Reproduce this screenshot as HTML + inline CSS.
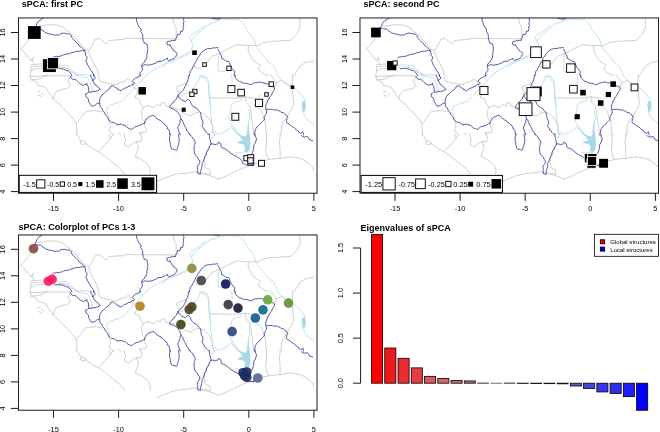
<!DOCTYPE html><html><head><meta charset="utf-8"><title>sPCA</title>
<style>html,body{margin:0;padding:0;background:#fff}svg{display:block}text{font-family:"Liberation Sans",sans-serif;fill:#000}</style></head><body>
<svg width="660" height="432" viewBox="0 0 660 432">
<rect width="660" height="432" fill="#fff"/>
<defs>
<clipPath id="c1"><rect x="18.5" y="17.95" width="298.5" height="175.3"/></clipPath>
<clipPath id="c2"><rect x="360.0" y="17.95" width="298.5" height="175.3"/></clipPath>
<clipPath id="c3"><rect x="18.5" y="234.95" width="298.5" height="175.3"/></clipPath>
<g id="map" fill="none" stroke-linejoin="round" stroke-linecap="round">
<path d="M302.5 101.5 L304.7 100.8 L305.9 104.5 L305.6 109.1 L304.4 112.1 L302.8 111.4 L302.2 107.6 L301.6 104.5Z M249.1 120.5 L249.2 123.0 L248.9 129.2 L249.4 133.0 L250.0 138.0 L250.4 144.2 L249.8 149.2 L248.1 151.8 L246.0 153.2 L244.4 150.5 L245.0 146.8 L243.1 144.2 L240.0 143.6 L237.5 143.2 L238.1 141.8 L241.2 140.8 L243.8 139.9 L241.5 139.2 L239.8 138.8 L241.8 138.0 L239.4 136.1 L236.9 133.9 L234.4 131.1 L232.1 128.4 L230.6 126.1 L231.0 125.6 L232.6 127.6 L235.0 130.2 L237.5 132.6 L240.0 134.5 L243.1 136.0 L245.6 136.5 L247.4 133.0 L248.1 128.0 L248.6 121.8Z" fill="#a8d8e8" stroke="none"/>
<path d="M37.7 26.6 L39.8 26.2 L41.9 25.8 L44.1 25.6 L46.2 25.0 L48.3 24.8 L50.6 24.8 L52.9 24.8 L55.1 25.0 L57.4 25.0 L59.4 25.8 L61.5 26.5 L63.5 27.3 L65.7 29.2 L68.0 31.2 L70.4 32.9 L72.6 34.9 L74.4 36.9 L76.3 38.8 L78.2 41.0 L80.1 43.3 L81.5 45.3 L83.2 47.0 L86.2 49.4 L88.5 50.1 L90.7 48.5 L91.7 46.2 L93.0 44.0 L94.2 41.8 L95.2 39.5 L99.1 38.3 L100.9 39.7 L102.9 41.0 L104.4 42.5 L105.9 44.0 L107.3 42.2 L108.9 40.5 L111.2 40.4 L113.5 40.1 L115.7 39.9 L118.0 39.8 M33.2 29.6 L32.2 31.9 L31.3 34.2 L30.2 36.4 L29.3 38.7 L28.2 40.5 L26.8 42.2 L25.6 44.0 L24.0 45.4 L22.5 47.0 L21.0 48.6 L22.4 50.6 L24.1 52.3 L25.6 54.2 L27.1 56.2 L29.1 58.3 L30.9 60.7 L31.9 58.9 L33.2 57.2 L32.7 59.3 L32.4 61.5 L34.6 64.5 M30.9 64.8 L32.9 64.5 L34.9 64.5 L36.9 64.3 L39.0 64.1 L41.0 63.9 L43.0 63.8 M43.0 66.0 L41.0 66.0 L39.0 66.3 L36.9 66.3 L34.9 66.7 L32.9 66.6 L30.9 66.7 L30.8 70.5 L32.8 69.9 L34.7 69.0 L36.7 68.8 L38.8 68.7 L40.9 68.3 L43.0 68.3 M58.2 66.8 L60.8 67.2 L63.5 67.8 L65.8 68.1 L68.0 68.8 L70.3 71.3 L72.6 72.4 L74.8 73.6 L76.6 74.9 L78.6 76.0 M88.5 50.1 L89.2 52.7 L90.0 55.4 L91.0 57.7 L92.2 60.0 L93.1 62.0 L94.3 63.9 L95.3 66.0 L96.5 68.2 L97.5 70.6 L98.1 73.3 L99.1 76.0 M118.0 39.8 L120.0 39.6 L122.0 39.7 L124.1 39.5 L124.8 38.0 L125.6 38.4 L127.6 38.5 L129.6 38.3 L131.6 38.3 L133.7 38.7 L135.7 38.6 L137.7 38.5 L139.7 38.7 L141.7 38.5 L143.8 38.7 L145.8 38.7 L147.8 38.5 L149.8 38.5 L151.8 38.5 L153.9 38.5 L155.9 38.7 L157.9 38.6 L159.9 38.6 L161.9 38.6 L164.0 38.8 L166.0 38.7 L168.0 38.7 L170.0 38.8 L172.0 38.9 L174.0 38.7 L176.0 38.8 L176.1 36.6 L176.2 34.5 L176.2 32.4 L176.1 30.2 L176.3 28.1 L175.1 25.9 L174.0 23.6 L173.4 20.7 L172.5 17.8 M218.0 53.9 L215.4 54.9 L212.7 55.7 L210.9 57.9 L208.9 60.0 L206.7 63.0 L205.1 64.4 L203.7 66.1 L202.0 67.5 L200.5 69.0 L197.9 67.9 L195.3 66.8 L193.8 66.0 M218.0 53.9 L220.3 52.9 L222.5 51.6 L224.5 50.7 L226.4 49.8 L228.2 48.6 L230.1 47.9 L232.2 46.9 L234.2 45.9 L236.2 44.8 L238.2 44.8 L240.2 45.0 L242.2 45.1 L244.3 45.4 L246.3 45.5 L248.3 45.8 L250.8 45.7 L253.2 45.5 L255.7 45.5 L258.2 45.6 L259.9 44.5 L261.8 43.7 L263.4 42.5 L266.0 42.1 L268.5 41.8 L271.0 41.4 L273.1 41.3 L275.3 41.3 L277.4 41.1 L279.5 41.0 L281.6 40.7 L283.9 40.7 L286.2 40.6 L288.5 40.4 L290.7 40.3 L292.1 38.6 L293.8 37.3 L295.3 35.7 L296.8 34.2 L297.8 32.2 L298.7 30.1 L299.8 28.1 L300.0 26.1 L299.7 24.0 L299.8 21.9 L299.8 19.9 L299.8 17.8 M248.3 45.8 L248.2 48.3 L248.3 50.8 L249.5 53.5 L250.6 56.2 L251.9 57.9 L253.1 59.7 L254.4 61.4 L256.4 62.6 L258.5 63.9 L260.4 65.2 L259.2 67.1 L258.2 69.0 L260.1 70.9 L261.9 72.8 L264.1 74.0 L266.5 74.9 L268.8 76.0 M313.5 61.0 L310.9 61.5 L308.4 62.0 L305.9 62.2 L303.9 63.6 L301.9 64.8 L299.8 66.0 L298.7 68.3 L297.5 70.5 L296.2 72.3 L295.0 74.2 L293.8 76.0 M30.1 76.5 L31.6 79.5 L33.8 80.8 L36.2 81.8 L36.8 83.8 L37.6 85.6 L40.0 85.9 L42.2 86.3 L44.2 87.0 L46.0 87.9 L47.1 89.8 L48.3 91.7 L50.6 94.7 L52.8 97.7 L54.3 100.0 L56.3 101.5 L58.1 103.0 L59.8 104.4 L61.2 106.1 L63.1 107.9 L64.9 109.9 L66.8 111.8 L68.8 113.6 L71.1 116.6 L72.6 118.1 L74.1 119.7 L75.1 121.6 L76.4 123.5 L76.5 125.8 L76.3 128.0 L77.1 131.8 L76.3 135.0 M37.7 91.7 L40.0 90.9 M38.5 95.5 L41.5 96.2 M42.2 93.2 L43.8 94.7 M30.1 76.5 L32.1 76.4 L34.2 76.3 L36.2 76.4 L38.2 76.2 L40.2 76.2 L42.2 76.0 L44.3 75.8 L46.3 75.8 L48.3 75.8 L50.4 75.8 L52.5 75.7 L54.7 75.6 L56.8 75.8 L58.9 75.8 L61.0 75.7 L63.2 75.7 L65.3 75.8 L67.4 75.9 L69.5 75.7 M69.5 77.3 L68.9 79.6 L68.0 81.8 L69.2 83.7 L70.3 85.6 L68.4 87.2 L66.5 88.6 L64.2 88.9 L61.9 89.4 L59.7 90.3 L57.4 90.9 L55.9 92.8 L54.3 94.7 L53.7 96.6 L52.9 98.5 M76.3 123.5 L78.3 121.3 L80.1 118.9 L81.5 117.3 L82.6 115.4 L83.9 113.6 L86.2 111.3 L88.7 111.1 L91.2 110.9 L93.8 110.7 L96.0 110.7 L98.3 111.1 L100.6 111.3 L102.8 112.2 M98.3 77.3 L99.6 79.5 L100.6 81.8 L102.7 82.0 L104.7 82.5 L106.8 83.1 L108.9 83.4 L111.2 83.8 L113.4 84.3 L115.7 84.6 L118.0 84.8 M108.9 120.5 L109.5 122.4 L110.0 124.5 L110.4 126.5 L109.6 128.8 L108.9 131.0 L111.9 133.3 L113.4 135.0 M118.0 83.3 L120.0 82.8 L122.0 82.2 L124.1 81.8 L126.4 80.4 L128.6 78.8 L130.1 80.3 L131.6 81.8 L132.5 84.4 L133.2 87.1 L135.5 88.5 L137.7 90.1 L137.0 92.5 L136.2 94.7 L134.7 97.7 L137.0 98.4 L139.2 99.2 L140.0 101.5 L140.7 103.8 L142.0 105.6 L143.0 107.6 L142.3 109.5 L141.5 111.4 L141.7 113.9 L142.1 116.4 L142.3 118.9 L143.8 120.4 L145.3 122.0 L144.8 124.2 L144.6 126.5 L146.8 129.5 L145.3 132.6 L143.3 132.6 L141.2 132.7 L139.2 132.6 L140.7 135.0 M118.0 132.6 L121.0 135.0 M143.0 107.6 L145.7 106.5 L148.3 105.3 L150.6 106.4 L152.8 107.6 L155.2 106.2 L157.4 104.5 L160.4 106.0 L161.2 103.0 L164.2 102.2 L165.0 105.3 L166.8 106.2 L168.8 106.8 L171.4 107.3 L174.1 107.6 L176.3 108.5 L178.6 109.1 L180.2 110.5 L181.7 112.1 L183.9 113.3 L186.2 114.4 L188.4 115.3 L190.7 115.9 L193.0 114.4 L195.3 112.9 L197.5 112.5 L199.8 112.1 L202.1 113.2 L204.4 114.4 L206.5 116.4 L208.9 118.1 L209.9 120.3 L210.7 122.4 L211.6 124.5 L212.7 126.5 L212.5 128.8 L211.9 131.1 L213.3 133.1 L215.0 135.0 M186.9 82.6 L184.7 84.1 L182.5 84.7 L180.5 85.6 L178.4 86.2 L176.3 87.1 L177.0 89.2 L178.0 91.1 L178.6 93.2 L177.9 95.5 L177.1 97.7 M209.7 97.7 L211.8 97.9 L213.8 97.8 L215.9 97.6 L218.0 97.7 M218.0 98.0 L220.2 98.1 L222.4 97.9 L224.6 98.0 L226.8 98.2 L228.9 97.9 L231.1 97.9 L233.3 98.0 L235.5 98.1 L237.7 98.1 L240.2 97.6 L242.7 97.2 L245.3 96.9 L247.9 97.3 L250.6 97.7 L252.9 98.0 L255.1 98.5 M245.3 97.0 L245.8 99.6 L246.0 102.3 L247.9 104.6 L249.9 106.8 L250.2 109.4 L251.0 111.8 L251.3 114.4 L251.4 116.4 L251.7 118.4 L252.1 120.5 L252.4 122.5 L252.7 124.5 L252.8 126.5 L253.2 128.6 L253.3 130.7 L253.5 132.9 L253.7 135.0 M255.1 105.3 L256.8 106.8 L258.5 108.4 L260.2 109.9 L261.9 111.4 L262.4 113.4 L263.0 115.4 L263.5 117.4 L265.0 120.5 L265.3 123.0 L265.4 125.5 L265.7 128.0 L266.0 130.4 L266.2 132.7 L266.5 135.0 M271.0 75.0 L272.6 77.3 L274.1 79.5 L276.3 82.6 L275.4 84.8 L274.8 87.1 M293.0 75.0 L292.7 77.0 L292.4 79.0 L292.2 81.1 L292.2 83.3 L292.3 85.6 L292.3 87.9 L292.2 90.2 L292.6 92.2 L292.8 94.2 L293.0 96.2 L293.2 98.2 L293.5 100.3 L293.8 102.3 L293.3 104.3 L292.8 106.3 L292.2 108.3 L290.8 110.6 L289.2 112.9 L287.9 115.1 L287.0 117.4 L285.0 119.7 L283.1 122.0 L282.4 124.3 L281.6 126.5 L281.3 128.6 L281.4 130.8 L281.1 132.9 L280.9 135.0 M276.3 82.6 L279.0 81.5 L281.7 80.3 L283.9 82.2 L286.2 84.1 L288.4 85.3 L290.7 86.4 M76.3 134.0 L78.6 137.0 L79.8 138.9 L80.9 140.8 L84.7 141.6 L86.2 143.8 L82.4 144.6 L80.1 143.1 L80.8 140.8 M86.2 143.8 L88.1 145.5 L90.2 146.9 L92.2 148.4 L94.2 149.5 L96.2 150.5 L98.3 151.5 L100.3 153.0 L102.4 154.4 L104.4 156.0 L106.4 157.5 L108.4 159.1 L110.4 160.5 L112.6 162.5 L115.0 164.3 L118.0 166.6 M98.3 151.4 L99.8 149.8 L101.2 148.3 L102.8 146.9 L104.3 145.3 L105.9 143.8 L107.4 142.3 L108.9 140.4 L110.4 138.5 L109.7 136.3 L108.9 134.0 M110.4 138.5 L111.8 136.2 L113.5 134.0 M118.0 166.6 L119.5 168.1 L121.0 169.6 L122.5 171.1 L124.8 174.2 M156.6 181.7 L158.9 180.7 L161.2 179.7 L163.5 178.7 L165.3 177.8 L167.3 177.2 L169.2 176.5 L171.0 175.6 L173.6 175.0 L176.1 174.4 L178.6 173.7 L181.1 173.4 L183.7 173.5 L186.2 173.1 L188.5 172.8 L190.7 172.6 L193.0 172.0 L195.3 171.9 L197.8 172.5 L200.3 173.0 L202.8 173.7 L205.4 174.3 L207.9 175.0 L210.4 175.7 L212.3 176.5 L214.3 177.1 L216.1 177.9 L218.0 178.7 M124.1 134.0 L124.5 136.0 L125.0 138.1 L125.6 140.1 L124.7 142.3 L124.1 144.6 L126.3 145.7 L128.6 146.9 L130.9 145.0 L133.2 143.1 L135.1 142.4 L137.0 141.6 L137.5 143.6 L138.0 145.6 L138.5 147.6 L137.7 149.6 L136.9 151.7 L136.2 153.7 L135.5 156.7 L138.0 157.9 L140.7 159.0 L143.0 160.5 L145.3 162.0 L147.2 164.3 L149.1 166.5 L149.9 168.8 L150.5 171.1 L149.8 174.1 M140.7 134.0 L141.4 136.3 L142.2 138.6 L140.7 141.6 L136.9 141.6 M211.2 143.8 L209.9 145.6 L208.6 147.4 L207.4 149.2 L206.7 151.2 L205.8 153.2 L205.1 155.2 L204.8 157.2 L204.6 159.2 L204.4 161.3 L204.8 163.3 L204.7 165.3 L205.1 167.3 L207.3 168.6 L209.7 169.6 L210.0 171.9 L210.4 174.2 L208.4 173.9 L206.4 173.8 L204.4 173.7 M218.0 179.2 L220.3 178.3 L222.6 177.4 L224.9 176.7 L227.1 175.7 L229.2 174.5 L231.3 173.4 L233.4 172.4 L235.6 171.4 L237.7 170.4 L240.0 169.5 L242.3 168.6 L244.5 167.4 L246.8 166.6 L249.3 165.9 L251.9 165.2 L254.4 164.3 L256.6 163.3 L259.0 162.5 L261.2 161.6 L263.5 160.5 L265.8 160.3 L268.0 159.7 L270.2 159.2 L272.5 159.0 L274.8 158.9 L277.1 158.5 L279.4 158.5 L281.6 158.3 L283.9 157.8 L286.2 157.5 L288.5 157.2 L290.7 156.7 L293.8 157.5 L295.8 157.6 L297.8 158.1 L299.8 158.3 L301.8 159.2 L303.9 160.1 L305.9 161.3 L308.1 163.2 L310.4 165.0 L311.9 166.6 L313.4 168.1 L313.4 170.4 M266.5 134.0 L266.5 136.3 L266.5 138.5 L266.5 140.8 L266.5 143.1 L266.3 145.6 L266.1 148.2 L265.7 150.7 L266.3 152.7 L266.7 154.7 L267.3 156.7 L268.8 159.5 M280.1 134.0 L280.0 136.5 L279.8 139.1 L279.3 141.6 L279.6 143.8 L279.9 146.1 L279.9 148.4 L280.1 150.7 L280.2 153.2 L280.1 155.7 L280.1 158.2 M30.9 70.5 L30.5 73.2 L30.1 76.5 M30.9 80.1 L33.8 79.6 L36.7 79.5 L39.4 78.7 L42.2 78.3 M42.2 76.9 L45.9 76.2 L47.4 74.4" stroke="#bebebe" stroke-width="0.75"/>
<path d="M53.6 65.2 L55.9 65.1 L58.2 64.9 L59.9 65.1 L61.7 65.2 L63.5 65.2 L65.8 65.4 L68.0 66.1 L69.2 67.5 L70.2 69.1 L71.6 70.4 L73.3 71.3 L74.9 72.4 L76.3 73.6 L78.6 75.1 L80.8 74.5 L83.1 74.3 L85.2 74.4 L87.2 75.1 L89.2 75.1 M146.0 76.0 L147.4 74.5 L148.9 73.2 L150.5 72.0 L151.8 71.0 L153.2 70.1 L154.6 69.2 L156.1 68.6 L157.4 67.5 L158.9 66.8 L160.3 65.8 L161.9 65.2 L163.4 64.4 L164.9 63.6 L166.4 62.7 L168.0 62.2 L169.5 61.6 L171.0 60.8 L172.5 60.4 L174.2 60.0 L175.5 59.1 L177.2 58.6 L178.6 57.6 L180.1 56.9 L181.7 56.2 L183.1 55.3 L184.7 54.6 L186.2 53.9 L187.8 53.4 L189.2 52.3 L190.8 51.7 L191.4 49.9 L191.9 48.2 L192.4 46.5 L193.0 44.8 L192.0 43.0 L191.4 41.0 L192.4 39.0 L193.8 37.2 L194.8 36.0 L195.9 34.8 L197.0 33.6 L198.3 32.7 L200.0 31.7 L201.4 30.5 L202.8 29.2 L204.3 28.1 L205.8 26.8 L207.4 25.6 L208.9 24.3 L210.4 23.7 L211.9 23.1 L213.6 22.9 L215.0 22.1 L218.0 21.3 M191.5 41.0 L190.2 39.2 L189.3 37.2 L190.7 35.9 L192.2 34.6 L193.7 33.4 L195.2 32.4 L196.8 31.5 L198.3 30.6 L199.8 29.6 L201.1 28.7 L202.3 27.5 L203.7 26.7 L205.1 25.8 M190.7 51.6 L189.2 52.8 L187.9 54.1 L186.4 55.2 L184.7 56.2 L183.2 56.9 L181.6 57.2 L180.1 57.8 L178.6 58.4 L177.1 58.9 L175.5 59.5 L174.0 60.0 L172.6 60.9 L171.0 61.5 L169.4 62.0 L168.1 63.2 L166.5 63.7 L164.9 64.9 L163.6 66.5 L161.9 67.5 M218.0 20.5 L219.8 20.1 L221.6 19.9 L223.4 19.7 L225.3 19.7 L227.1 19.3 L228.8 19.4 L230.6 19.2 L232.3 19.3 L234.0 19.5 L235.7 19.8 L237.5 19.8 L239.2 19.8 L240.6 21.0 L241.7 22.3 L243.0 23.6 L243.9 25.1 L245.0 26.5 L245.5 28.2 L246.8 29.5 L247.5 31.2 L248.4 32.5 L249.9 33.4 L250.7 34.8 L251.6 36.1 L252.8 37.3 L253.6 39.0 L254.5 40.7 L255.2 42.5 L255.2 44.5 L255.9 46.3 L257.0 47.8 L258.3 49.2 L259.3 50.9 L260.4 52.4 L261.7 53.5 L262.6 55.1 L263.8 56.3 L264.9 57.7 L266.0 59.1 L267.4 60.2 L268.2 61.8 L269.5 63.0 L271.2 64.0 L272.7 65.3 L274.1 66.8 L274.8 68.5 L275.7 70.2 L276.4 72.0 L277.2 74.0 L277.9 76.0 M75.6 75.0 L77.5 75.2 L79.3 76.0 L81.3 76.0 L83.1 76.5 L85.4 77.2 L87.7 78.1 L89.0 79.8 L90.0 81.8 L90.9 84.0 L91.5 86.3 L92.0 88.3 L93.0 90.2 L90.7 91.4 M118.0 102.3 L116.5 102.9 L114.9 103.1 L113.5 104.0 L112.0 104.6 L110.3 105.1 L108.9 106.0 L107.4 106.7 L107.3 109.1 L106.6 111.4 L107.2 113.2 L108.0 115.0 L108.8 116.7 L109.2 118.6 L108.9 120.5 M118.0 103.0 L119.4 102.1 L121.1 101.6 L122.5 100.8 L123.7 99.7 L125.0 98.6 L125.8 97.2 L127.1 96.2 L128.3 94.6 L129.4 93.0 L130.9 91.7 L132.3 90.5 L133.5 89.2 L134.6 87.8 L136.0 86.8 L137.2 85.6 L138.3 84.2 L139.6 83.1 L140.7 81.8 L141.9 80.2 L143.1 78.6 L144.5 77.2 L145.5 75.9 L146.8 75.0 M201.3 75.0 L200.4 76.4 L199.7 78.0 L198.9 79.5 L198.3 81.0 L197.5 82.7 L196.4 84.1 L195.5 85.6 L194.5 87.1 L193.2 88.2 L192.0 89.5 L190.5 90.5 L189.2 91.6 L187.8 92.6 L186.1 93.0 L184.7 94.0 L183.2 94.6 L181.7 95.2 L180.1 95.5 L178.6 96.1 M202.1 75.0 L203.8 76.1 L205.7 76.9 L207.4 78.1 L208.0 80.0 L208.6 82.0 L208.8 84.1 L208.8 86.0 L208.8 87.9 L208.8 89.8 L208.8 91.7 L209.1 93.5 L209.0 95.3 L209.2 97.1 L209.3 99.0 L209.7 100.8 L209.7 102.6 L209.9 104.4 L210.2 106.2 L210.4 108.0 L210.4 109.9 L210.8 111.6 L210.5 113.5 L211.1 115.3 L211.3 117.1 L211.3 118.9 L211.2 120.8 L211.9 122.6 L212.3 124.4 L212.7 126.2 L212.8 128.0 L213.0 129.8 L213.4 131.5 L213.7 133.3 L214.2 135.0 M231.6 75.0 L231.7 76.9 L232.0 78.8 L232.1 80.7 L232.3 82.6 M241.5 97.7 L240.7 100.8 L238.7 101.3 L236.6 101.5 L234.7 102.3 L233.1 103.3 L231.6 104.6 L231.3 106.2 L231.5 108.0 L230.8 109.6 L230.9 111.4 L230.6 113.0 L229.9 114.4 L229.2 115.9 L228.7 117.5 L229.4 119.7 L230.1 122.0 L231.0 123.6 L232.2 125.0 L233.2 126.5 L234.4 127.5 L235.3 128.9 L236.4 130.1 L237.7 131.1 M249.1 109.8 L249.4 111.7 L249.3 113.7 L249.7 115.5 L249.9 117.4 L249.7 119.4 L248.9 121.2 L248.5 123.1 L248.3 125.0 L247.9 126.9 L247.5 128.8 L247.3 130.7 L246.7 132.6 M260.4 94.7 L259.4 96.6 L258.1 98.5 M269.5 97.7 L268.3 99.1 L267.3 100.7 L266.5 102.3 M278.6 76.5 L279.8 77.6 L280.9 78.8 L282.2 79.8 L283.1 81.1 L284.7 82.3 L286.0 83.7 L287.7 84.8 L289.2 85.5 L290.8 86.2 L292.2 87.1 L293.9 88.0 L295.4 88.9 L296.8 90.2 L298.0 91.2 L299.2 92.3 L300.3 93.5 L301.3 94.7 L302.4 96.2 L303.3 97.8 L304.3 99.3 L304.7 101.3 L304.6 103.3 L305.1 105.3 L304.8 106.9 L303.8 108.3 L303.2 109.8 L302.8 111.3 L303.8 113.6 L304.3 115.9 L305.3 117.2 L306.6 118.3 L307.5 119.6 L308.5 120.9 L309.9 121.8 L311.2 122.7 L313.5 124.2 M215.0 134.0 L214.0 135.5 L212.8 136.9 L212.0 138.6 M215.0 131.1 L216.1 132.8 L217.4 134.3 L219.2 133.9 L220.8 133.3 L222.5 133.0 L224.2 132.3 L225.7 131.1 L227.5 130.5 L228.6 129.1 L230.0 128.0 M236.2 152.4 L238.1 152.8 L240.0 153.2 L242.1 152.4 L244.4 151.7 M218.6 55.6 L218.4 57.2 L218.7 58.9 L218.1 60.6 L218.3 62.3 L218.1 63.9 L217.9 65.8 L218.5 67.5 L218.2 69.4 L218.6 71.2 L220.5 71.6 L222.4 71.4 L224.3 71.8 L225.5 70.7 L227.2 70.2 L228.5 69.2 M199.2 76.4 L201.0 76.8 L202.7 77.1 L204.5 77.4 L205.1 79.0 L206.1 80.4 L206.9 81.9 L208.0 83.2 L208.7 84.7 L209.0 86.4 L208.7 88.0 L208.9 89.6 L209.3 91.2 L209.0 92.9 L209.5 94.5 L209.5 96.1 L209.8 97.7 L209.7 99.3 L209.7 101.0 L210.3 102.7 L210.6 104.3 L210.7 106.0" stroke="#a8d8e8" stroke-width="0.75"/>
<path d="M35.0 28.4 L35.4 26.8 L36.3 25.5 L36.8 23.7 L37.7 22.1 L39.2 20.6 L40.9 19.9 L42.1 18.6 L44.0 17.8 M33.9 28.1 L35.3 28.1 L36.6 28.5 L37.9 29.0 L39.3 28.9 L40.7 28.9 L41.9 30.0 L43.1 31.0 L44.6 31.8 L45.6 32.8 L46.9 33.2 L48.3 33.5 L49.5 34.1 L51.0 34.1 L52.3 34.5 L53.6 34.8 L55.1 35.2 L56.7 34.8 L58.2 35.3 L59.3 34.5 L60.5 33.8 L61.9 33.4 L63.5 33.1 L65.0 33.2 L66.5 33.8 L68.4 33.8 L70.3 34.4 L71.4 35.6 L71.7 37.3 L72.8 38.8 L74.1 40.2 L75.2 41.1 L76.2 42.2 L77.1 43.2 L78.4 44.0 L78.9 45.5 L80.0 46.4 L81.2 47.2 L82.2 48.1 L83.2 48.9 L84.8 50.5 L85.2 52.2 L85.5 53.9 L85.6 55.5 L86.8 56.8 L87.1 58.4 L86.1 59.8 L86.2 61.5 L87.0 62.6 L87.2 64.0 L87.8 65.2 L88.8 66.8 L89.9 68.4 L90.4 69.7 L91.3 70.9 L92.3 72.0 L92.9 73.3 L93.6 74.6 L93.7 76.0 M84.7 50.5 L83.1 50.7 L81.6 50.6 L80.1 51.2 L78.6 51.2 L77.0 51.3 L75.5 51.5 L74.0 52.3 L72.5 52.5 L70.9 52.9 L69.5 53.5 L68.0 54.1 L66.5 54.1 L65.0 54.5 L63.5 54.8 L62.3 55.6 L60.9 55.8 L59.6 56.3 L58.1 56.6 L56.6 56.3 L55.1 56.9 L53.6 56.8 L52.0 58.3 M54.4 68.3 L55.8 68.9 L57.4 68.4 L58.9 68.4 L60.5 68.6 L61.9 68.9 L63.5 69.1 L64.9 69.9 L66.4 70.6 L68.0 70.6 L69.0 71.5 L69.9 72.7 L71.0 73.6 L71.9 76.0 M136.2 17.8 L136.5 19.2 L136.5 20.7 L136.9 22.1 L137.6 23.3 L137.9 24.6 L138.4 25.9 L139.1 27.3 L140.5 28.2 L141.0 29.6 L140.8 31.9 L141.8 32.9 L142.5 34.2 L142.7 35.7 L142.8 37.2 L142.9 38.7 L143.0 40.2 L143.8 41.5 L144.0 43.0 L145.6 43.5 L147.1 44.0 L147.2 45.6 L147.6 47.1 L147.8 48.6 L147.8 49.9 L147.3 51.2 L147.4 52.5 L147.4 53.9 L146.7 55.3 L147.0 57.0 L146.4 58.4 L145.9 59.9 L144.8 60.6 L144.4 62.1 L143.5 63.0 L142.3 63.7 L141.6 66.0 L142.0 67.5 L142.4 69.0 L142.2 70.6 L140.9 71.9 L139.9 73.5 L140.1 76.0 M183.9 17.8 L183.6 19.1 L183.6 20.4 L184.1 21.7 L183.3 23.0 L183.5 24.3 L183.7 25.7 L182.9 27.0 L183.3 28.4 L183.0 29.8 L182.7 31.1 L180.4 31.4 L180.6 32.9 L180.1 34.2 L178.8 34.3 L177.4 34.5 L177.3 35.9 L176.7 37.2 L175.9 38.7 L175.7 40.3 L174.1 40.3 L172.6 40.6 L171.0 40.8 L169.8 41.2 L168.5 41.3 L167.2 41.8 L166.6 44.1 L168.3 44.9 L170.3 44.9 L170.3 46.2 L171.6 47.2 L171.9 48.5 L173.1 49.3 L173.6 50.8 L174.9 51.6 L176.3 52.3 L177.4 53.6 L176.5 54.7 L176.2 56.1 L175.2 57.4 L174.0 58.4 L172.5 59.1 L171.3 59.6 L169.9 60.0 L168.8 60.8 L167.6 59.6 L167.3 58.1 L165.8 59.1 L164.3 60.0 L162.8 60.3 L161.9 61.4 L160.0 61.2 L158.2 61.6 L156.7 61.9 L155.8 63.3 L154.3 63.6 L152.9 64.2 L151.4 64.6 L149.8 64.8 L148.3 65.1 L146.7 65.1 L145.2 64.6 L143.7 65.2 L142.3 66.1 M218.0 47.8 L216.7 47.5 L215.4 47.9 L214.1 47.9 L212.8 47.9 L211.5 48.7 L210.2 48.4 L208.9 48.6 L207.3 48.8 L205.8 49.3 L204.3 50.0 L203.4 51.0 L202.2 51.7 L201.4 52.8 L200.5 53.8 L199.8 55.3 L198.9 56.7 L197.6 57.7 L197.2 59.0 L196.9 60.3 L195.9 61.4 L195.2 62.9 L194.4 64.4 L193.7 66.0 L192.8 67.0 L192.3 68.3 L191.9 69.7 L190.7 70.5 L190.1 71.8 L190.0 73.3 L189.6 74.6 L189.2 76.0 M211.9 18.3 L213.4 18.6 L214.9 18.9 L216.5 19.0 L218.0 19.1 M218.0 49.3 L218.7 50.9 L219.6 52.3 L220.3 53.9 L221.2 55.3 L221.5 56.8 L221.7 58.5 L223.2 58.9 L224.3 59.9 L225.6 60.7 L227.0 61.4 L228.6 61.4 L229.3 62.6 L229.8 63.9 L230.1 65.2 L230.9 66.3 L231.3 67.6 L232.1 68.6 L232.8 69.7 L234.0 70.5 L234.7 71.8 L234.5 73.3 L234.7 74.7 L235.4 76.0 M218.0 19.0 L219.5 18.7 L221.0 18.1 M70.3 76.5 L71.1 78.0 L72.2 79.0 L73.6 79.4 L75.2 79.3 L76.3 80.3 L77.4 81.2 L78.3 82.1 L79.3 83.0 L80.2 84.0 L81.9 84.4 L83.2 85.5 L84.3 84.7 L85.9 84.5 L86.9 83.2 L87.0 85.0 L88.2 86.3 L88.5 87.9 L88.5 89.8 L89.1 91.7 L88.0 92.5 L86.9 93.6 L85.4 93.9 L85.9 95.4 L86.1 97.0 L87.5 97.9 L88.5 99.2 L88.4 101.2 L89.4 103.0 L90.4 104.5 L91.4 106.1 L93.4 105.9 L95.2 105.2 L96.3 104.1 L97.6 103.4 L99.1 103.1 L99.8 104.2 L99.8 105.6 L100.5 106.9 L101.5 107.9 L102.3 109.0 L102.5 110.5 L103.6 111.4 L104.6 112.5 L104.9 114.0 L105.9 115.1 L106.8 116.3 L107.8 117.4 L108.1 119.0 L109.0 120.4 L110.4 121.2 L111.7 122.4 L113.7 122.3 L115.0 123.4 L116.5 124.2 L117.9 125.1 M90.7 75.0 L90.8 76.7 L91.8 78.0 L92.3 79.5 L93.1 81.0 L93.8 82.6 L94.4 84.1 L96.0 84.9 L96.9 86.3 L98.3 87.2 L99.2 88.5 L100.5 89.5 L99.3 89.8 L98.1 90.6 L96.8 91.0 L94.9 91.4 L93.0 91.6 L91.1 92.2 L89.2 92.1 M93.8 75.0 L94.3 76.6 L95.3 78.0 L94.0 79.5 L92.3 80.4 M118.0 89.4 L116.5 88.2 L114.9 87.2 L113.8 86.1 L112.3 85.8 L110.8 86.4 L110.2 87.9 L109.0 88.7 L108.2 89.9 L106.9 90.7 L105.8 91.6 L104.6 92.7 L103.5 93.9 L102.1 94.7 L101.2 96.2 L100.4 97.6 L99.8 99.2 L99.5 101.1 L99.8 103.0 M118.0 89.4 L119.6 90.1 L121.0 90.9 L122.1 90.1 L123.1 89.1 L124.3 88.4 L125.6 87.9 L127.1 87.7 L128.0 86.3 L129.6 86.2 L130.9 85.7 L131.9 84.5 L133.6 84.4 L134.6 83.2 L133.6 82.1 L132.4 81.0 L133.5 80.1 L134.3 78.9 L135.4 78.0 L136.7 77.6 L137.9 77.0 L139.2 76.6 L140.7 75.0 M118.0 124.2 L119.5 124.4 L121.1 124.1 L122.5 124.9 L124.1 125.0 L125.7 125.9 L127.0 127.3 L128.5 128.3 L130.1 128.8 L131.7 129.5 L133.1 128.4 L134.6 127.2 L136.1 126.4 L137.7 126.2 L139.2 125.6 L140.5 125.1 L141.9 124.6 L143.0 123.6 L144.5 123.5 L144.6 121.8 L145.7 120.5 L146.1 119.0 L147.3 118.2 L148.3 117.0 L149.8 116.7 L151.3 115.8 L152.9 115.3 L154.6 116.0 L155.8 117.5 L156.7 118.6 L158.0 119.1 L159.1 120.0 L160.5 120.4 L161.4 121.8 L163.0 122.5 L164.1 123.6 L164.9 125.0 L166.5 125.8 L167.2 127.3 L167.6 129.0 L169.1 130.1 L169.6 131.8 L169.6 133.5 L170.4 135.0 M189.2 75.0 L188.4 76.4 L188.7 78.1 L187.8 79.5 L187.8 81.1 L187.1 82.3 L186.1 83.3 L186.1 84.8 L185.5 86.0 L184.7 87.1 L184.1 88.4 L183.5 89.7 L182.7 90.7 L181.7 91.7 L180.4 92.5 L179.6 93.8 L178.5 94.8 L177.9 96.3 L176.9 97.2 L176.7 98.7 L175.6 99.6 L174.8 100.7 L174.0 101.9 L172.7 102.6 L172.0 103.9 L171.1 104.9 L170.2 106.0 L169.6 107.6 L170.9 108.5 L172.5 108.7 L174.1 109.1 L175.1 110.3 L176.7 110.9 L177.8 112.2 L178.5 113.4 L179.5 114.6 L180.1 115.9 L180.6 117.4 L181.0 118.9 L180.1 120.4 L180.3 122.1 L179.3 123.5 L179.1 125.1 L178.2 126.5 L177.7 128.0 L178.3 129.6 L178.7 131.1 L179.4 132.6 L180.3 135.0 M180.9 118.9 L182.0 120.0 L182.7 121.3 L183.1 122.7 L183.8 124.0 L184.4 125.3 L184.9 126.6 L185.9 127.7 L186.3 129.1 L186.6 130.6 L187.8 131.4 L188.6 132.5 L189.1 133.8 L189.9 134.9 M177.8 96.2 L178.9 97.1 L179.9 97.9 L180.6 99.1 L181.6 100.0 L183.0 100.2 L184.1 101.1 L185.4 101.5 L186.7 100.1 L188.5 99.3 L189.4 100.4 L190.3 101.6 L190.8 103.0 L191.6 104.4 L192.5 105.8 L193.7 106.9 L195.1 107.5 L196.4 108.1 L197.6 109.0 L198.4 110.4 L199.5 111.7 L200.6 112.9 L200.7 114.4 L201.1 115.9 L201.2 117.4 L201.6 119.0 L202.6 120.4 L202.7 122.0 L203.0 123.6 L202.3 125.0 L202.1 126.5 L203.1 127.6 L204.0 128.8 L204.3 130.3 L205.7 131.0 L206.3 132.4 L207.3 133.4 L209.0 134.9 M233.9 75.0 L235.0 76.0 L235.3 77.6 L236.2 78.8 L237.1 79.8 L238.3 80.6 L239.4 81.4 L240.8 81.7 L242.0 82.6 L243.3 83.0 L244.6 83.4 L246.1 83.2 L247.4 83.6 L248.7 84.0 L249.9 84.7 L251.5 84.4 L253.0 83.6 L254.4 82.6 L255.7 82.8 L257.0 82.6 L258.3 82.1 L259.7 82.2 L261.1 82.1 L262.3 83.1 L263.7 82.8 L265.0 83.3 L266.3 83.8 L267.7 83.9 L268.8 84.8 L270.2 85.2 L271.3 86.2 L272.8 86.4 L274.1 87.1 L274.7 89.4 L274.1 90.5 L273.0 91.5 L272.4 92.7 L271.9 94.0 L271.1 95.3 L270.3 96.6 L269.3 97.8 L268.8 99.3 L267.8 100.7 L267.2 102.3 L266.6 103.8 L265.8 105.6 L265.8 107.6 L265.8 109.5 L266.6 111.3 L266.5 113.0 L265.8 114.5 L264.9 115.9 L264.1 117.7 L264.4 119.7 L263.2 120.7 L262.2 121.7 L261.1 122.7 L260.5 123.9 L259.3 124.6 L258.4 125.7 L257.3 126.4 L256.4 128.2 L255.0 129.5 L255.1 130.9 L255.0 132.3 L254.4 133.6 L254.4 135.0 M266.5 109.8 L267.9 109.2 L269.5 109.5 L271.0 109.0 L272.3 109.6 L273.7 109.7 L275.0 109.9 L276.3 109.9 L277.6 110.2 L278.9 110.8 L280.1 111.3 L281.5 112.5 L283.3 112.5 L284.6 113.7 L286.0 114.6 L286.9 116.0 L287.8 117.4 L286.8 118.8 L286.7 120.5 L286.2 122.0 L287.2 123.3 L288.9 123.8 L290.0 125.0 L291.2 125.8 L292.4 126.7 L293.7 127.3 L294.7 128.4 L295.9 129.2 L296.8 130.3 L298.3 131.0 L299.1 132.6 L300.5 133.4 L301.8 132.8 L302.8 131.7 L303.3 133.4 L303.5 135.0 M170.3 134.0 L169.9 135.5 L169.6 137.0 L169.5 138.5 L169.6 140.1 L169.7 141.6 L170.4 143.1 L170.2 144.6 L170.8 146.1 L171.0 147.7 L171.9 149.1 L173.4 149.2 L174.9 149.5 L176.3 150.4 L177.2 149.1 L177.5 147.6 L177.8 146.1 L178.5 144.7 L178.9 143.2 L179.0 141.6 L179.3 140.0 L179.0 138.6 L178.9 137.0 L178.6 135.5 L178.6 134.0 M189.8 134.0 L190.5 135.2 L191.4 136.3 L192.6 137.2 L193.0 138.6 L194.2 139.9 L194.9 141.4 L195.2 143.1 L194.8 144.4 L194.1 145.6 L194.2 147.1 L193.9 148.4 L194.1 149.9 L194.2 151.4 L194.4 153.0 L194.9 154.4 L196.1 155.5 L196.8 156.7 L197.9 157.6 L198.2 159.1 L199.3 160.0 L199.9 161.2 L199.7 162.8 L199.1 164.1 L197.9 165.2 L197.6 166.6 L197.1 167.9 L198.0 169.3 L197.2 170.7 L197.9 172.0 L197.7 173.4 L199.0 174.0 L200.6 174.1 L201.0 172.9 L200.6 171.5 L200.7 170.1 L201.4 168.9 L201.7 167.6 L202.1 166.2 L202.1 164.9 L202.0 163.5 L202.8 162.3 L203.4 161.0 L203.8 159.6 L204.5 158.3 L204.7 156.8 L205.9 155.8 L206.3 154.4 L206.5 152.9 L207.0 151.2 L208.3 150.0 L209.0 148.4 L209.3 146.7 L210.3 145.3 L211.2 143.9 L213.1 143.9 L214.9 144.7 L216.5 144.2 L218.0 143.7 M209.2 134.0 L209.5 135.3 L209.4 136.7 L209.7 138.0 L209.8 139.3 L210.6 140.7 L210.4 142.4 L211.2 143.8 M218.0 142.3 L220.3 143.1 L221.1 144.9 L221.2 146.9 L222.1 147.8 L223.4 148.2 L224.8 148.4 L226.0 149.5 L227.5 150.2 L228.6 151.5 L229.8 152.1 L230.6 153.3 L231.9 153.9 L233.1 154.5 L234.0 155.6 L235.6 155.8 L236.8 156.3 L237.7 157.4 L239.2 158.2 L240.5 159.2 L241.6 160.4 L242.2 162.1 L242.9 163.6 L244.3 163.9 L245.5 164.7 L246.9 165.1 L248.3 164.9 L249.6 165.3 L251.0 165.3 L252.3 165.3 L253.6 166.0 L253.7 164.2 L254.4 162.8 M255.1 134.0 L255.5 135.6 L255.7 137.2 L256.6 138.6 L256.2 140.1 L255.7 141.6 L255.2 143.1 L254.2 144.5 L253.6 146.0 L253.7 147.7 L253.7 149.3 L253.1 150.7 L252.6 152.2 L252.0 153.7 L250.5 155.1 M301.3 135.5 L302.7 136.6 L304.4 136.9 L305.9 136.9 L307.4 136.3 L308.3 137.6 L309.0 139.1 L310.5 140.0 L312.7 140.7" stroke="#231f8e" stroke-width="0.75"/>
</g>
</defs>
<g clip-path="url(#c1)"><use href="#map" x="0" y="0"/></g>
<g clip-path="url(#c2)"><use href="#map" x="345.6" y="0"/></g>
<g clip-path="url(#c3)"><use href="#map" x="0" y="216.2"/></g>
<g clip-path="url(#c1)">
<rect x="27.90" y="26.10" width="12.80" height="12.80" fill="#000"/>
<rect x="42.95" y="59.15" width="12.90" height="12.90" fill="#000"/>
<rect x="47.40" y="57.60" width="11.20" height="11.20" fill="#000" stroke="#fff" stroke-width="0.8"/>
<rect x="192.20" y="50.40" width="4.60" height="4.60" fill="#000"/>
<rect x="202.70" y="62.80" width="3.60" height="3.60" fill="#fff" stroke="#111" stroke-width="1.0"/>
<rect x="226.85" y="66.15" width="4.30" height="4.30" fill="#fff" stroke="#111" stroke-width="1.0"/>
<rect x="138.45" y="87.05" width="7.50" height="7.50" fill="#000"/>
<rect x="192.70" y="89.35" width="4.30" height="4.30" fill="#fff" stroke="#111" stroke-width="1.0"/>
<rect x="189.70" y="92.15" width="4.30" height="4.30" fill="#fff" stroke="#111" stroke-width="1.0"/>
<rect x="181.65" y="107.65" width="4.10" height="4.10" fill="#000"/>
<rect x="227.90" y="85.60" width="7.00" height="7.00" fill="#fff" stroke="#111" stroke-width="1.0"/>
<rect x="237.80" y="89.30" width="6.60" height="6.60" fill="#fff" stroke="#111" stroke-width="1.0"/>
<rect x="255.40" y="99.30" width="7.20" height="7.20" fill="#fff" stroke="#111" stroke-width="1.0"/>
<rect x="231.85" y="113.35" width="6.90" height="6.90" fill="#fff" stroke="#111" stroke-width="1.0"/>
<rect x="269.00" y="81.90" width="4.60" height="4.60" fill="#fff" stroke="#111" stroke-width="1.0"/>
<rect x="264.75" y="92.75" width="3.50" height="3.50" fill="#fff" stroke="#111" stroke-width="1.0"/>
<rect x="290.70" y="85.40" width="3.60" height="3.60" fill="#000"/>
<rect x="243.90" y="155.60" width="5.20" height="5.20" fill="#fff" stroke="#111" stroke-width="1.0"/>
<rect x="247.70" y="154.70" width="6.00" height="6.00" fill="#fff" stroke="#111" stroke-width="1.0"/>
<rect x="247.90" y="159.80" width="5.20" height="5.20" fill="#fff" stroke="#111" stroke-width="1.0"/>
<rect x="247.75" y="157.75" width="5.50" height="5.50" fill="#fff" stroke="#111" stroke-width="1.0"/>
<rect x="258.55" y="160.35" width="5.90" height="5.90" fill="#fff" stroke="#111" stroke-width="1.0"/>
</g>
<g clip-path="url(#c2)">
<rect x="371.05" y="27.65" width="9.70" height="9.70" fill="#000"/>
<rect x="387.05" y="60.95" width="9.30" height="9.30" fill="#000"/>
<rect x="393.00" y="60.90" width="4.20" height="4.20" fill="#fff" stroke="#111" stroke-width="1.0"/>
<rect x="530.65" y="46.85" width="10.70" height="10.70" fill="#fff" stroke="#111" stroke-width="1.0"/>
<rect x="542.75" y="60.75" width="7.30" height="7.30" fill="#fff" stroke="#111" stroke-width="1.0"/>
<rect x="566.55" y="63.85" width="8.50" height="8.50" fill="#fff" stroke="#111" stroke-width="1.0"/>
<rect x="479.85" y="86.45" width="8.10" height="8.10" fill="#fff" stroke="#111" stroke-width="1.0"/>
<rect x="531.90" y="86.55" width="9.90" height="9.90" fill="#000"/>
<rect x="527.00" y="87.60" width="13.00" height="13.00" fill="#fff" stroke="#111" stroke-width="1.0"/>
<rect x="519.25" y="102.85" width="12.70" height="12.70" fill="#fff" stroke="#111" stroke-width="1.0"/>
<rect x="569.60" y="85.40" width="7.60" height="7.60" fill="#fff" stroke="#111" stroke-width="1.0"/>
<rect x="580.20" y="89.80" width="5.60" height="5.60" fill="#000"/>
<rect x="597.90" y="100.20" width="5.60" height="5.60" fill="#000"/>
<rect x="574.65" y="114.15" width="5.10" height="5.10" fill="#000"/>
<rect x="610.40" y="81.30" width="5.60" height="5.60" fill="#000"/>
<rect x="605.80" y="91.90" width="5.20" height="5.20" fill="#000"/>
<rect x="631.10" y="84.00" width="6.80" height="6.80" fill="#fff" stroke="#111" stroke-width="1.0"/>
<rect x="584.30" y="153.60" width="9.20" height="9.20" fill="#000" stroke="#fff" stroke-width="0.8"/>
<rect x="587.80" y="153.60" width="9.20" height="9.20" fill="#000" stroke="#fff" stroke-width="0.8"/>
<rect x="586.90" y="159.00" width="9.20" height="9.20" fill="#000" stroke="#fff" stroke-width="0.8"/>
<rect x="587.40" y="156.40" width="9.20" height="9.20" fill="#000" stroke="#fff" stroke-width="0.8"/>
<rect x="599.15" y="158.85" width="8.90" height="8.90" fill="#000"/>
</g>
<g clip-path="url(#c3)" fill-opacity="0.92">
<circle cx="33.5" cy="248.7" r="4.8" fill="#8e4a42"/>
<circle cx="48.3" cy="281.2" r="4.8" fill="#ff1a66"/>
<circle cx="52.1" cy="279.3" r="4.8" fill="#ff1a66"/>
<circle cx="191.8" cy="268.4" r="4.8" fill="#938a3c"/>
<circle cx="201.3" cy="280.5" r="4.8" fill="#4d4248"/>
<circle cx="225.6" cy="284.0" r="4.8" fill="#15155e"/>
<circle cx="140" cy="306.2" r="4.8" fill="#b3801e"/>
<circle cx="191.9" cy="306.9" r="4.8" fill="#4f4524"/>
<circle cx="189.2" cy="309.6" r="4.8" fill="#4f4524"/>
<circle cx="180.9" cy="324.6" r="4.8" fill="#3e4514"/>
<circle cx="228.2" cy="304.6" r="4.8" fill="#3a3a48"/>
<circle cx="238" cy="308.1" r="4.8" fill="#22163f"/>
<circle cx="267.7" cy="299.8" r="4.8" fill="#6aab3c"/>
<circle cx="263" cy="309.9" r="4.8" fill="#14688f"/>
<circle cx="255.3" cy="318" r="4.8" fill="#1a5a90"/>
<circle cx="232.1" cy="331.6" r="4.8" fill="#2c487f"/>
<circle cx="288.5" cy="303.1" r="4.8" fill="#64913a"/>
<circle cx="243.0" cy="372.7" r="4.8" fill="#1e2a64"/>
<circle cx="246.8" cy="372.0" r="4.8" fill="#1e2a64"/>
<circle cx="246.8" cy="377.3" r="4.8" fill="#1e2a64"/>
<circle cx="244.5" cy="375.5" r="4.8" fill="#1e2a64"/>
<circle cx="257.8" cy="378.0" r="4.8" fill="#566a8c"/>
</g>
<rect x="18.50" y="17.95" width="298.50" height="175.30" fill="none" stroke="#262626" stroke-width="1.05"/>
<path d="M53.50 193.25v7.6M118.60 193.25v7.6M183.70 193.25v7.6M248.80 193.25v7.6M313.90 193.25v7.6M18.50 32.50h-7.6M18.50 59.00h-7.6M18.50 85.50h-7.6M18.50 112.10h-7.6M18.50 138.60h-7.6M18.50 165.10h-7.6M18.50 191.60h-7.6" stroke="#1c1c1c" stroke-width="1" fill="none"/>
<text x="48.18" y="210.90" font-size="8" textLength="10.64" lengthAdjust="spacingAndGlyphs">-15</text>
<text x="113.28" y="210.90" font-size="8" textLength="10.64" lengthAdjust="spacingAndGlyphs">-10</text>
<text x="180.43" y="210.90" font-size="8" textLength="6.54" lengthAdjust="spacingAndGlyphs">-5</text>
<text x="246.75" y="210.90" font-size="8" textLength="4.09" lengthAdjust="spacingAndGlyphs">0</text>
<text x="311.85" y="210.90" font-size="8" textLength="4.09" lengthAdjust="spacingAndGlyphs">5</text>
<text transform="translate(5.45 36.59) rotate(-90)" font-size="8" textLength="8.18" lengthAdjust="spacingAndGlyphs">16</text>
<text transform="translate(5.45 63.09) rotate(-90)" font-size="8" textLength="8.18" lengthAdjust="spacingAndGlyphs">14</text>
<text transform="translate(5.45 89.59) rotate(-90)" font-size="8" textLength="8.18" lengthAdjust="spacingAndGlyphs">12</text>
<text transform="translate(5.45 116.19) rotate(-90)" font-size="8" textLength="8.18" lengthAdjust="spacingAndGlyphs">10</text>
<text transform="translate(5.45 140.65) rotate(-90)" font-size="8" textLength="4.09" lengthAdjust="spacingAndGlyphs">8</text>
<text transform="translate(5.45 167.15) rotate(-90)" font-size="8" textLength="4.09" lengthAdjust="spacingAndGlyphs">6</text>
<text transform="translate(5.45 193.65) rotate(-90)" font-size="8" textLength="4.09" lengthAdjust="spacingAndGlyphs">4</text>
<text x="21.70" y="6.50" font-size="8.3" font-weight="bold" textLength="61.3" lengthAdjust="spacingAndGlyphs">sPCA: first PC</text>
<rect x="360.00" y="17.95" width="298.50" height="175.30" fill="none" stroke="#262626" stroke-width="1.05"/>
<path d="M395.00 193.25v7.6M460.10 193.25v7.6M525.20 193.25v7.6M590.30 193.25v7.6M655.40 193.25v7.6M360.00 32.50h-7.6M360.00 59.00h-7.6M360.00 85.50h-7.6M360.00 112.10h-7.6M360.00 138.60h-7.6M360.00 165.10h-7.6M360.00 191.60h-7.6" stroke="#1c1c1c" stroke-width="1" fill="none"/>
<text x="389.68" y="210.90" font-size="8" textLength="10.64" lengthAdjust="spacingAndGlyphs">-15</text>
<text x="454.78" y="210.90" font-size="8" textLength="10.64" lengthAdjust="spacingAndGlyphs">-10</text>
<text x="521.93" y="210.90" font-size="8" textLength="6.54" lengthAdjust="spacingAndGlyphs">-5</text>
<text x="588.25" y="210.90" font-size="8" textLength="4.09" lengthAdjust="spacingAndGlyphs">0</text>
<text x="653.35" y="210.90" font-size="8" textLength="4.09" lengthAdjust="spacingAndGlyphs">5</text>
<text transform="translate(346.95 36.59) rotate(-90)" font-size="8" textLength="8.18" lengthAdjust="spacingAndGlyphs">16</text>
<text transform="translate(346.95 63.09) rotate(-90)" font-size="8" textLength="8.18" lengthAdjust="spacingAndGlyphs">14</text>
<text transform="translate(346.95 89.59) rotate(-90)" font-size="8" textLength="8.18" lengthAdjust="spacingAndGlyphs">12</text>
<text transform="translate(346.95 116.19) rotate(-90)" font-size="8" textLength="8.18" lengthAdjust="spacingAndGlyphs">10</text>
<text transform="translate(346.95 140.65) rotate(-90)" font-size="8" textLength="4.09" lengthAdjust="spacingAndGlyphs">8</text>
<text transform="translate(346.95 167.15) rotate(-90)" font-size="8" textLength="4.09" lengthAdjust="spacingAndGlyphs">6</text>
<text transform="translate(346.95 193.65) rotate(-90)" font-size="8" textLength="4.09" lengthAdjust="spacingAndGlyphs">4</text>
<text x="363.60" y="6.50" font-size="8.3" font-weight="bold" textLength="75.8" lengthAdjust="spacingAndGlyphs">sPCA: second PC</text>
<rect x="18.50" y="234.95" width="298.50" height="175.30" fill="none" stroke="#262626" stroke-width="1.05"/>
<path d="M53.50 410.25v7.6M118.60 410.25v7.6M183.70 410.25v7.6M248.80 410.25v7.6M313.90 410.25v7.6M18.50 249.30h-7.6M18.50 275.80h-7.6M18.50 302.30h-7.6M18.50 328.90h-7.6M18.50 355.40h-7.6M18.50 381.90h-7.6M18.50 408.40h-7.6" stroke="#1c1c1c" stroke-width="1" fill="none"/>
<text x="48.18" y="431.80" font-size="8" textLength="10.64" lengthAdjust="spacingAndGlyphs">-15</text>
<text x="113.28" y="431.80" font-size="8" textLength="10.64" lengthAdjust="spacingAndGlyphs">-10</text>
<text x="180.43" y="431.80" font-size="8" textLength="6.54" lengthAdjust="spacingAndGlyphs">-5</text>
<text x="246.75" y="431.80" font-size="8" textLength="4.09" lengthAdjust="spacingAndGlyphs">0</text>
<text x="311.85" y="431.80" font-size="8" textLength="4.09" lengthAdjust="spacingAndGlyphs">5</text>
<text transform="translate(5.45 253.39) rotate(-90)" font-size="8" textLength="8.18" lengthAdjust="spacingAndGlyphs">16</text>
<text transform="translate(5.45 279.89) rotate(-90)" font-size="8" textLength="8.18" lengthAdjust="spacingAndGlyphs">14</text>
<text transform="translate(5.45 306.39) rotate(-90)" font-size="8" textLength="8.18" lengthAdjust="spacingAndGlyphs">12</text>
<text transform="translate(5.45 332.99) rotate(-90)" font-size="8" textLength="8.18" lengthAdjust="spacingAndGlyphs">10</text>
<text transform="translate(5.45 357.45) rotate(-90)" font-size="8" textLength="4.09" lengthAdjust="spacingAndGlyphs">8</text>
<text transform="translate(5.45 383.95) rotate(-90)" font-size="8" textLength="4.09" lengthAdjust="spacingAndGlyphs">6</text>
<text transform="translate(5.45 410.45) rotate(-90)" font-size="8" textLength="4.09" lengthAdjust="spacingAndGlyphs">4</text>
<text x="18.50" y="230.40" font-size="8.3" font-weight="bold" textLength="116.7" lengthAdjust="spacingAndGlyphs">sPCA: Colorplot of PCs 1-3</text>
<rect x="19.2" y="175.3" width="137.4" height="17.099999999999994" fill="#fff" stroke="#000" stroke-width="1"/>
<text x="23.3" y="186.8" font-size="7.6" textLength="12.6" lengthAdjust="spacingAndGlyphs">-1.5</text>
<rect x="36.70" y="179.80" width="8.20" height="8.20" fill="#fff" stroke="#111" stroke-width="1.0"/>
<text x="47.1" y="186.8" font-size="7.6" textLength="12.1" lengthAdjust="spacingAndGlyphs">-0.5</text>
<rect x="60.20" y="181.95" width="4.30" height="4.30" fill="#fff" stroke="#111" stroke-width="1.0"/>
<text x="67.2" y="186.8" font-size="7.6" textLength="9.9" lengthAdjust="spacingAndGlyphs">0.5</text>
<rect x="78.30" y="182.05" width="4.10" height="4.10" fill="#000"/>
<text x="85.4" y="186.8" font-size="7.6" textLength="9.9" lengthAdjust="spacingAndGlyphs">1.5</text>
<rect x="96.00" y="180.20" width="7.60" height="7.60" fill="#000"/>
<text x="106.6" y="186.8" font-size="7.6" textLength="9.6" lengthAdjust="spacingAndGlyphs">2.5</text>
<rect x="117.20" y="178.30" width="10.60" height="10.60" fill="#000"/>
<text x="130.9" y="186.8" font-size="7.6" textLength="9.8" lengthAdjust="spacingAndGlyphs">3.5</text>
<rect x="141.50" y="177.35" width="12.90" height="12.90" fill="#000"/>
<rect x="361.1" y="175.4" width="141.29999999999995" height="17.0" fill="#fff" stroke="#000" stroke-width="1"/>
<text x="365.2" y="186.8" font-size="7.6" textLength="17.0" lengthAdjust="spacingAndGlyphs">-1.25</text>
<rect x="382.90" y="177.65" width="12.30" height="12.30" fill="#fff" stroke="#111" stroke-width="1.0"/>
<text x="398.6" y="186.8" font-size="7.6" textLength="16.3" lengthAdjust="spacingAndGlyphs">-0.75</text>
<rect x="415.60" y="178.95" width="9.70" height="9.70" fill="#fff" stroke="#111" stroke-width="1.0"/>
<text x="428.2" y="186.8" font-size="7.6" textLength="16.5" lengthAdjust="spacingAndGlyphs">-0.25</text>
<rect x="445.70" y="181.35" width="5.30" height="5.30" fill="#fff" stroke="#111" stroke-width="1.0"/>
<text x="453.2" y="186.8" font-size="7.6" textLength="14.5" lengthAdjust="spacingAndGlyphs">0.25</text>
<rect x="468.20" y="181.75" width="4.90" height="4.90" fill="#000"/>
<text x="476.2" y="186.8" font-size="7.6" textLength="14.6" lengthAdjust="spacingAndGlyphs">0.75</text>
<rect x="491.50" y="179.05" width="9.50" height="9.50" fill="#000"/>
<g>
<path d="M360.6 248V383.2" stroke="#000" stroke-width="0.9" fill="none"/>
<text transform="translate(343.3 253.12) rotate(-90)" font-size="8" textLength="10.23" lengthAdjust="spacingAndGlyphs">1.5</text>
<text transform="translate(343.3 298.22) rotate(-90)" font-size="8" textLength="10.23" lengthAdjust="spacingAndGlyphs">1.0</text>
<text transform="translate(343.3 343.27) rotate(-90)" font-size="8" textLength="10.23" lengthAdjust="spacingAndGlyphs">0.5</text>
<text transform="translate(343.3 388.32) rotate(-90)" font-size="8" textLength="10.23" lengthAdjust="spacingAndGlyphs">0.0</text>
<path d="M360.6 248.0h-7.6M360.6 293.1h-7.6M360.6 338.15h-7.6M360.6 383.2h-7.6" stroke="#000" stroke-width="0.9" fill="none"/>
<rect x="371.50" y="234.37" width="11.1" height="148.83" fill="#ff0000" stroke="#0a0000" stroke-width="0.8"/>
<rect x="384.75" y="348.02" width="11.1" height="35.18" fill="#ee1a1e" stroke="#0a0000" stroke-width="0.8"/>
<rect x="398.01" y="358.30" width="11.1" height="24.90" fill="#e92d31" stroke="#0a0000" stroke-width="0.8"/>
<rect x="411.26" y="367.87" width="11.1" height="15.33" fill="#e23f43" stroke="#0a0000" stroke-width="0.8"/>
<rect x="424.52" y="376.34" width="11.1" height="6.86" fill="#dc575b" stroke="#0a0000" stroke-width="0.8"/>
<rect x="437.77" y="378.42" width="11.1" height="4.78" fill="#d5666a" stroke="#0a0000" stroke-width="0.8"/>
<rect x="451.03" y="380.49" width="11.1" height="2.71" fill="#b87275" stroke="#0a0000" stroke-width="0.8"/>
<rect x="464.29" y="380.94" width="11.1" height="2.26" fill="#ad7679" stroke="#0a0000" stroke-width="0.8"/>
<rect x="477.24" y="382.65" width="11.7" height="1.00" fill="#3a2a2a"/>
<rect x="490.50" y="382.85" width="11.7" height="0.80" fill="#555"/>
<rect x="503.75" y="382.65" width="11.7" height="1.00" fill="#222"/>
<rect x="517.01" y="382.75" width="11.7" height="1.10" fill="#111"/>
<rect x="530.26" y="382.75" width="11.7" height="1.20" fill="#111"/>
<rect x="543.52" y="382.75" width="11.7" height="1.30" fill="#111"/>
<rect x="556.77" y="382.75" width="11.7" height="1.50" fill="#101018"/>
<rect x="570.33" y="383.20" width="11.1" height="2.80" fill="#5656d8" stroke="#0a0000" stroke-width="0.8"/>
<rect x="583.58" y="383.20" width="11.1" height="5.23" fill="#4646e2" stroke="#0a0000" stroke-width="0.8"/>
<rect x="596.84" y="383.20" width="11.1" height="8.75" fill="#3838ea" stroke="#0a0000" stroke-width="0.8"/>
<rect x="610.09" y="383.20" width="11.1" height="10.37" fill="#2d2df0" stroke="#0a0000" stroke-width="0.8"/>
<rect x="623.35" y="383.20" width="11.1" height="13.44" fill="#1f1ff6" stroke="#0a0000" stroke-width="0.8"/>
<rect x="636.60" y="383.20" width="11.1" height="27.06" fill="#0000ff" stroke="#0a0000" stroke-width="0.8"/>
<text x="360.6" y="230.6" font-size="8.3" font-weight="bold" textLength="90.1" lengthAdjust="spacingAndGlyphs">Eigenvalues of sPCA</text>
<rect x="594.5" y="234.3" width="64" height="22" fill="#fff" stroke="#000" stroke-width="0.8"/>
<rect x="600.4" y="239.8" width="4.2" height="4.0" fill="#f00000" stroke="#200" stroke-width="0.9"/>
<rect x="600.4" y="247.1" width="4.2" height="4.0" fill="#0000f0" stroke="#002" stroke-width="0.9"/>
<text x="610.3" y="244.3" font-size="6.0" textLength="45.5" lengthAdjust="spacingAndGlyphs">Global structures</text>
<text x="610.3" y="251.6" font-size="6.0" textLength="42.4" lengthAdjust="spacingAndGlyphs">Local structures</text>
</g>
</svg></body></html>
